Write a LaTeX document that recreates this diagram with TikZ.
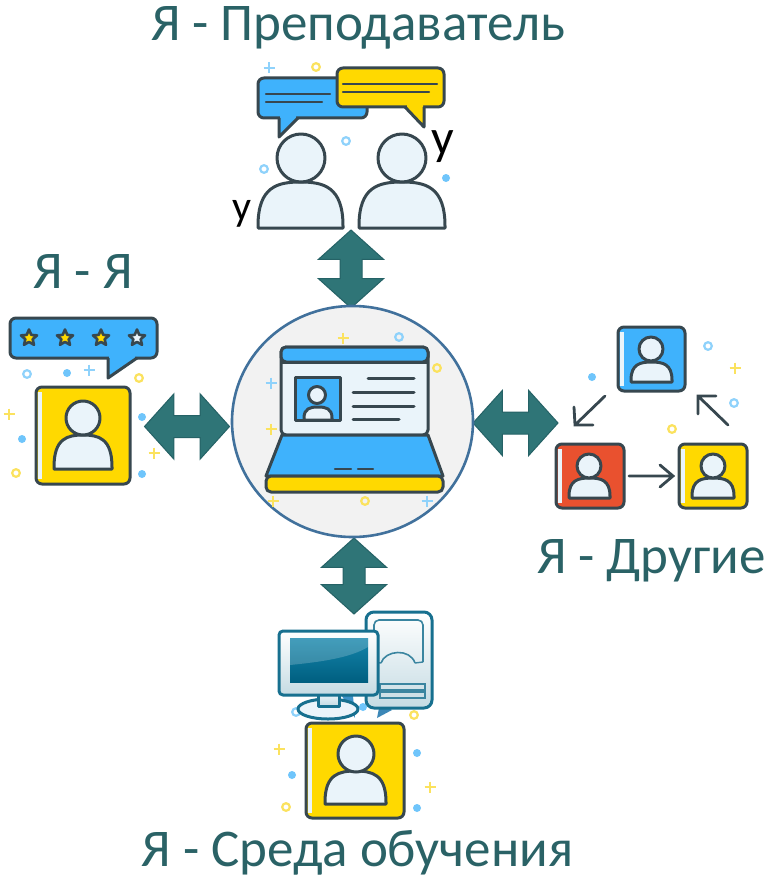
\documentclass[tikz,border=0pt]{standalone}
\usepackage{fontspec}
\setmainfont{Carlito}
\usetikzlibrary{shapes.arrows,shapes.geometric}
\definecolor{ink}{HTML}{37474F}
\definecolor{teal1}{HTML}{2F7577}
\definecolor{teal2}{HTML}{256266}
\definecolor{txt}{HTML}{2A6266}
\definecolor{sky}{HTML}{3FB2FC}
\definecolor{sun}{HTML}{FFD900}
\definecolor{paleb}{HTML}{EAF4FA}
\definecolor{tomato1}{HTML}{E9512F}
\definecolor{rim}{HTML}{41719C}
\definecolor{pc}{HTML}{17708F}
\definecolor{scrtop}{HTML}{1485AB}
\definecolor{scrbot}{HTML}{005F80}
\definecolor{sparkb}{HTML}{8FD2FB}
\definecolor{sparky}{HTML}{FBE25E}
\tikzset{
  x=1pt,y=-1pt,
  outline/.style={draw=ink,line width=3pt,line join=round},
  bar/.style={draw=ink,line width=3pt,line cap=round},
  thin bar/.style={draw=ink,line width=2.4pt,line cap=round},
  flow/.style={draw=ink,line width=2.8pt,line cap=round,line join=miter},
  twoway/.style={shape=double arrow,fill=teal1,draw=teal2,line width=1pt,inner xsep=0pt,inner ysep=10.5pt,outer sep=0pt,
    minimum height=85pt,minimum width=64pt,double arrow head extend=21.5pt,double arrow tip angle=96},
  title/.style={font=\fontsize{53}{56}\selectfont,text=txt,inner sep=0pt,anchor=base},
  pcline/.style={draw=pc,line width=3pt,line join=round},
  starmark/.style={shape=star,star points=5,star point ratio=2.2,draw=ink,line width=2.6pt,
    minimum size=17pt,inner sep=0pt,line join=round}
}
% head x,y,r ; body left,right,top,bottom
\newcommand{\figperson}[7]{%
  \pgfmathsetmacro{\figc}{(#4+#5)/2}
  \pgfmathsetmacro{\figk}{(#5-#4)*0.27}
  \pgfmathsetmacro{\figs}{#6+(#7-#6)*0.1}
  \filldraw[outline,fill=paleb] (#4,#7) -- (#4,#7-2) .. controls (#4,\figs) and (\figc-\figk,#6) .. (\figc,#6)
    .. controls (\figc+\figk,#6) and (#5,\figs) .. (#5,#7-2) -- (#5,#7) -- cycle;
  \filldraw[outline,fill=paleb] (#1,#2) circle[radius=#3];
}
\newcommand{\figsquare}[5]{%
  \filldraw[outline,fill=#5,rounded corners=6pt] (#1,#2) rectangle (#3,#4);
  \fill[paleb] (#1+2,#2+5) rectangle (#1+5.5,#4-5);
}
\newcommand{\spkplus}[3]{\draw[#3,line width=1.8pt] (#1-5.5,#2) -- (#1+5.5,#2) (#1,#2-5.5) -- (#1,#2+5.5);}
\newcommand{\spkring}[3]{\draw[#3,line width=2.2pt] (#1,#2) circle[radius=3.8];}
\newcommand{\spkdot}[2]{\fill[sparkb!60!sky] (#1,#2) circle[radius=4];}
\begin{document}
\begin{tikzpicture}
\useasboundingbox (0,0) rectangle (770,880);
\fill[white] (0,0) rectangle (770,880);

% block arrows
\node[twoway,rotate=90,minimum height=78pt] (arrowtop) at (351,269) {};
\node[twoway] (arrowleft) at (187,426.5) {};
\node[twoway] (arrowright) at (515.5,423) {};
\node[twoway,rotate=90,minimum height=76pt] (arrowbottom) at (354,576) {};

% central disc
\node[ellipse,draw=rim,fill=black!5,line width=2.6pt,minimum width=241pt,minimum height=231pt,inner sep=0pt] (hub) at (352.5,421.5) {};

% laptop
\filldraw[outline,fill=paleb,rounded corners=5pt] (281,435) -- (281,347) -- (428,347) -- (428,435) -- cycle;
\filldraw[outline,fill=sky,rounded corners=5pt] (281,362) -- (281,347) -- (428,347) -- (428,362) -- cycle;
\draw[outline] (281,362) -- (428,362);
\filldraw[outline,fill=sky] (295,377) rectangle (340,420);
\figperson{317}{395}{8.5}{304}{332}{407}{420}
\draw[bar] (368,378) -- (414,378) (353,392) -- (414,392) (353,406) -- (414,406) (353,419) -- (399,419);
\filldraw[outline,fill=sky] (282,435) -- (428,435) -- (443,476) -- (266,476) -- cycle;
\filldraw[outline,fill=sun,rounded corners=5pt] (266,476) -- (443,476) -- (443,492) -- (266,492) -- cycle;
\draw[thin bar] (335,469) -- (351,469) (358,469) -- (373,469);
\spkplus{343}{338}{sparky}\spkring{399}{337}{sparkb}\spkring{437}{368}{sparky}
\spkplus{271}{383}{sparkb}\spkplus{271}{429}{sparky}\spkplus{273}{501}{sparky}
\spkring{365}{501}{sparky}\spkplus{427}{501}{sparkb}

% top icon
\filldraw[outline,fill=sky,rounded corners=6pt] (258,78) rectangle (367,118);
\fill[sky] (280,115) -- (296,115) -- (296,119) -- (280,135) -- cycle;
\draw[outline] (298,118) -- (279,137) -- (279,118);
\draw[thin bar] (266,94) -- (330,94) (266,102) -- (322,102);
\filldraw[outline,fill=sun,rounded corners=6pt] (337,68) rectangle (444,107);
\fill[sun] (407,104) -- (423,104) -- (423,125) -- (407,109) -- cycle;
\draw[outline] (405,107) -- (424,127) -- (424,107);
\draw[thin bar] (343,84) -- (437,84) (343,92) -- (429,92);
\figperson{301}{158}{24}{258}{343}{182}{228}
\figperson{402}{158}{24}{359}{445}{182}{228}
\spkplus{269}{68}{sparkb}\spkring{316}{67}{sparky}\spkring{346}{141}{sparkb}\spkring{264}{169}{sparkb}\spkdot{446}{178}
\node[font=\fontsize{42}{46}\selectfont,text=black,inner sep=0pt,anchor=base] (ulow) at (242,220) {у};
\node[font=\fontsize{50}{54}\selectfont,text=black,inner sep=0pt,anchor=base] (uhigh) at (443,154) {у};

% left icon
\filldraw[outline,fill=sky,rounded corners=6pt] (10,318) rectangle (157,358);
\fill[sky] (109,355) -- (135,355) -- (135,359) -- (109,376) -- cycle;
\draw[outline] (137,358) -- (108,378) -- (108,358);
\foreach \n/\x/\c in {1/29/sun,2/65/sun,3/101/sun,4/137/paleb}
  \node[starmark,fill=\c] (star\n) at (\x,338) {};
\figsquare{36}{387}{130}{484}{sun}
\figperson{83}{418}{17}{54}{112}{435}{469}
\spkring{27}{374}{sparkb}\spkdot{67}{373}\spkplus{89}{370}{sparkb}\spkring{139}{378}{sparky}
\spkplus{9}{414}{sparky}\spkdot{22}{439}\spkring{16}{473}{sparky}\spkdot{142}{417}\spkplus{154}{453}{sparky}\spkdot{142}{474}

% right icon
\figsquare{618}{327}{685}{391}{sky}
\figperson{651}{349}{12}{631}{672}{362}{382}
\figsquare{556}{444}{624}{508}{tomato1}
\figperson{589}{466}{12}{569}{610}{478}{498}
\figsquare{679}{444}{747}{508}{sun}
\figperson{713}{466}{12}{692}{734}{478}{498}
\coordinate (fa1) at (605,396); \coordinate (fa2) at (575,425);
\coordinate (fb1) at (629,476); \coordinate (fb2) at (673,476);
\coordinate (fc1) at (728,425); \coordinate (fc2) at (698,396);
\draw[flow] (fa1) -- (fa2) (574,407) -- (fa2) -- (593,425);
\draw[flow] (fb1) -- (fb2) (660,465) -- (fb2) -- (660,487);
\draw[flow] (fc1) -- (fc2) (698,414) -- (fc2) -- (716,396);
\spkdot{592}{377}\spkring{708}{346}{sparkb}\spkplus{735}{368}{sparky}\spkring{734}{403}{sparkb}\spkring{672}{429}{sparky}

% bottom icon
\fill[sky!70!ink] (342,696) -- (353,696) -- (355,718) -- cycle;
\fill[sky!60!ink] (377,718) -- (380,703) -- (392,710) -- cycle;
\spkring{296}{712}{sparkb}\spkdot{363}{707}\spkring{414}{715}{sparky}
\draw[pcline,top color=white,bottom color=pc!25,rounded corners=8pt] (366,612) rectangle (432,708);
\draw[pc!85,line width=1.6pt,rounded corners=5pt] (374,662) -- (374,620) -- (423,620) -- (423,662);
\draw[pc!85,line width=1.6pt] (381,663) .. controls (385,650) and (410,648) .. (415,663);
\draw[pc!85,line width=1.4pt] (374,662) -- (381,663) (415,663) -- (423,662);
\draw[pc!85,line width=1.4pt] (380,684) rectangle (425,690) (380,692) rectangle (425,698);
\filldraw[pcline,fill=paleb] (328,709) ellipse[x radius=30,y radius=10];
\draw[pcline,top color=paleb,bottom color=pc!25] (318,694) -- (318,706) -- (339,706) -- (339,694);
\draw[pcline,top color=white,bottom color=pc!25,rounded corners=4pt] (279,631) rectangle (378,695);
\shade[top color=scrtop,bottom color=scrbot] (290,638) rectangle (368,682);
\fill[white,opacity=.2] (290,638) -- (368,638) -- (368,647) .. controls (350,658) and (320,662) .. (290,665) -- cycle;
\figsquare{306}{723}{404}{818}{sun}
\figperson{356}{754}{18}{325}{386}{771}{804}
\spkplus{279}{749}{sparky}\spkdot{292}{775}\spkring{286}{807}{sparky}\spkdot{417}{753}\spkplus{430}{787}{sparky}\spkdot{417}{808}

% titles
\node[title] (ttop) at (358,41) {Я - Преподаватель};
\node[title] (tleft) at (83,288) {Я - Я};
\node[title] (tright) at (651.5,573) {Я - Другие};
\node[title] (tbottom) at (357.5,866) {Я - Среда обучения};
\end{tikzpicture}
\end{document}
